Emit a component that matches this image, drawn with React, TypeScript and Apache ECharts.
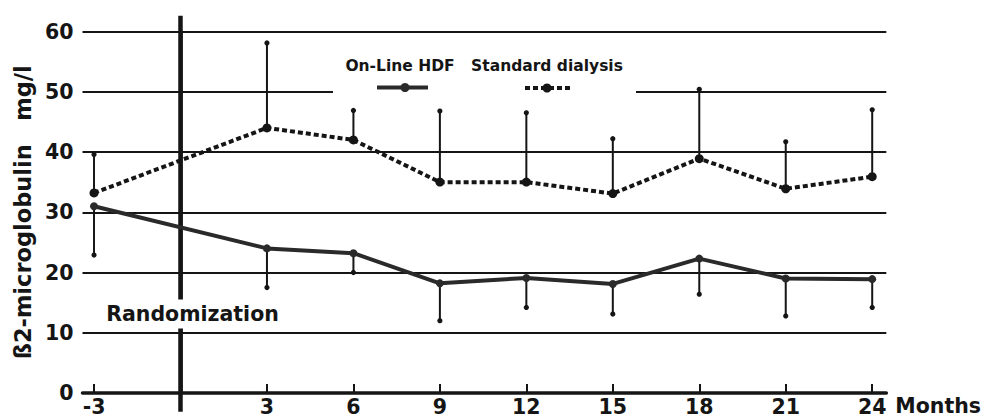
import React, { useEffect, useRef } from "react";
import * as echarts from "echarts";

const months = [-3, 3, 6, 9, 12, 15, 18, 21, 24];
const hdfMean = [31.0, 24.0, 23.2, 18.2, 19.1, 18.1, 22.3, 19.0, 18.9];
const hdfLower = [22.9, 17.5, 20.0, 12.0, 14.2, 13.1, 16.4, 12.8, 14.2];
const stdMean = [33.2, 44.0, 42.0, 35.0, 35.0, 33.1, 38.9, 33.9, 35.9];
const stdUpper = [39.6, 58.1, 46.9, 46.8, 46.5, 42.2, 50.4, 41.7, 47.0];
const xTickLabels = [-3, 3, 6, 9, 12, 15, 18, 21, 24];
const randomizationMonth = 0;
const hdfName = "On-Line HDF";
const stdName = "Standard dialysis";
const yTitle = "ß2-microglobulin   mg/l";
const xTitle = "Months";
const randomizationLabel = "Randomization";

const FONT = "DejaVu Sans";
const INK = "#151515";

function errorBarSeries(mean: number[], end: number[], name: string) {
  return {
    type: "custom",
    name,
    z: 3,
    data: months.map((m, i) => [m, mean[i], end[i]]),
    encode: { x: 0, y: 1 },
    renderItem: (_params: any, api: any) => {
      const x = api.value(0);
      const p1 = api.coord([x, api.value(1)]);
      const p2 = api.coord([x, api.value(2)]);
      return {
        type: "group",
        children: [
          {
            type: "line",
            shape: { x1: p1[0], y1: p1[1], x2: p2[0], y2: p2[1] },
            style: { stroke: INK, lineWidth: 2 },
          },
          {
            type: "circle",
            shape: { cx: p2[0], cy: p2[1], r: 2.6 },
            style: { fill: INK },
          },
        ],
      };
    },
  };
}

export default function App() {
  const ref = useRef<HTMLDivElement>(null);
  useEffect(() => {
    const chart = echarts.init(ref.current!, null, { renderer: "svg" });
    chart.setOption({
      animation: false,
      backgroundColor: "#ffffff",
      textStyle: { fontFamily: FONT, fontWeight: "bold", color: INK },
      grid: { left: 82.5, right: 97, top: 31.5, bottom: 26 },
      xAxis: {
        type: "value",
        min: -3.4,
        max: 24.49,
        name: xTitle,
        nameLocation: "end",
        nameGap: 9,
        nameTextStyle: {
          fontFamily: FONT,
          fontWeight: "bold",
          fontSize: 20.5,
          color: INK,
          verticalAlign: "top",
          padding: [2, 0, 0, 0],
        },
        axisLine: { show: true, lineStyle: { color: INK, width: 3.5 } },
        axisTick: {
          show: true,
          inside: true,
          length: 9,
          lineStyle: { color: INK, width: 2 },
          customValues: xTickLabels,
        },
        axisLabel: {
          customValues: xTickLabels,
          fontFamily: FONT,
          fontWeight: "bold",
          fontSize: 20.5,
          color: INK,
          margin: 3,
        },
        splitLine: { show: false },
      },
      yAxis: {
        type: "value",
        min: 0,
        max: 60,
        interval: 10,
        name: yTitle,
        nameLocation: "middle",
        nameRotate: 90,
        nameGap: 35,
        nameTextStyle: {
          fontFamily: FONT,
          fontWeight: "bold",
          fontSize: 22.5,
          color: INK,
        },
        axisLine: { show: true, lineStyle: { color: INK, width: 3.5 } },
        axisTick: { show: false },
        axisLabel: {
          fontFamily: FONT,
          fontWeight: "bold",
          fontSize: 20.5,
          color: INK,
          margin: 9,
        },
        splitLine: { show: true, lineStyle: { color: INK, width: 2 } },
      },
      series: [
        {
          type: "line",
          name: stdName,
          z: 4,
          data: months.map((m, i) => [m, stdMean[i]]),
          symbol: "circle",
          symbolSize: 9,
          itemStyle: { color: INK },
          lineStyle: { color: INK, width: 4, type: [5, 3] },
        },
        {
          type: "line",
          name: hdfName,
          z: 4,
          data: months.map((m, i) => [m, hdfMean[i]]),
          symbol: "circle",
          symbolSize: 8,
          itemStyle: { color: "#2a2a2a" },
          lineStyle: { color: "#2a2a2a", width: 4 },
        },
        errorBarSeries(stdMean, stdUpper, stdName + " SD"),
        errorBarSeries(hdfMean, hdfLower, hdfName + " SD"),
      ],
    });

    const top = chart.convertToPixel({ gridIndex: 0 }, [randomizationMonth, 62.6]) as number[];
    const bottom = chart.convertToPixel({ gridIndex: 0 }, [randomizationMonth, -3.1]) as number[];

    chart.setOption({
      graphic: [
        {
          type: "rect",
          z: 1,
          shape: { x: 333, y: 86, width: 303, height: 11 },
          style: { fill: "#ffffff" },
        },
        {
          type: "line",
          z: 2,
          shape: { x1: top[0], y1: top[1], x2: bottom[0], y2: bottom[1] },
          style: { stroke: INK, lineWidth: 4.5 },
        },
        {
          type: "text",
          z: 10,
          x: 192.5,
          y: 314,
          style: {
            text: randomizationLabel,
            font: `bold 20.5px "${FONT}"`,
            fill: INK,
            align: "center",
            verticalAlign: "middle",
            backgroundColor: "#ffffff",
            padding: [4, 2],
          },
        },
        {
          type: "text",
          z: 10,
          x: 400,
          y: 66,
          style: {
            text: hdfName,
            font: `bold 15.5px "${FONT}"`,
            fill: INK,
            align: "center",
            verticalAlign: "middle",
          },
        },
        {
          type: "text",
          z: 10,
          x: 547,
          y: 66,
          style: {
            text: stdName,
            font: `bold 15.5px "${FONT}"`,
            fill: INK,
            align: "center",
            verticalAlign: "middle",
          },
        },
        {
          type: "line",
          z: 10,
          shape: { x1: 377, y1: 87.5, x2: 428, y2: 87.5 },
          style: { stroke: "#2a2a2a", lineWidth: 4 },
        },
        {
          type: "circle",
          z: 10,
          shape: { cx: 405, cy: 87.5, r: 4.5 },
          style: { fill: "#2a2a2a" },
        },
        {
          type: "line",
          z: 10,
          shape: { x1: 525, y1: 88, x2: 572, y2: 88 },
          style: { stroke: INK, lineWidth: 4, lineDash: [5, 3] },
        },
        {
          type: "circle",
          z: 10,
          shape: { cx: 547, cy: 88, r: 4.5 },
          style: { fill: INK },
        },
      ],
    });
    return () => chart.dispose();
  }, []);
  return (
    <div
      ref={ref}
      style={{ position: "fixed", left: 0, top: 0, width: 984, height: 419, background: "#fff" }}
    />
  );
}
